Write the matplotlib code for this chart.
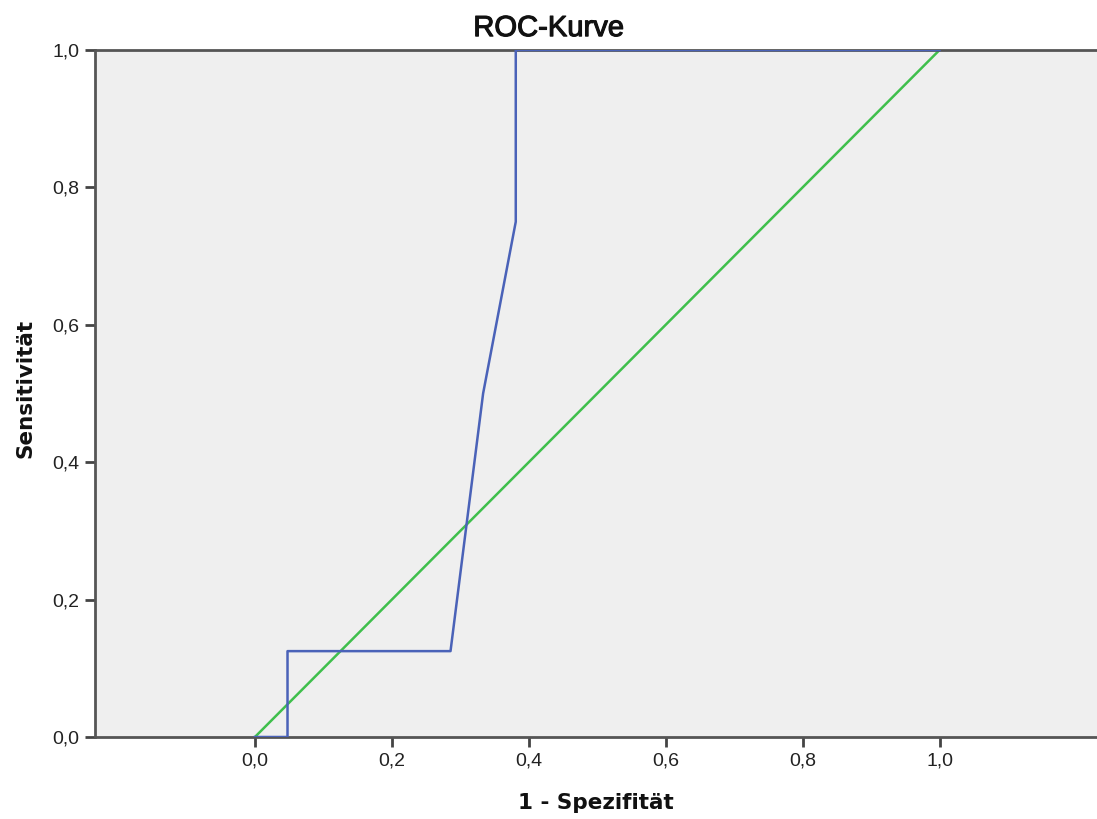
import matplotlib
matplotlib.use("Agg")
import matplotlib.pyplot as plt
import matplotlib.patheffects as pe
from matplotlib.ticker import FuncFormatter

# Data
fpr = [0.0, 0.0476, 0.0476, 0.2857, 0.3333, 0.3810, 0.3810, 1.0]
tpr = [0.0, 0.0, 0.125, 0.125, 0.5, 0.75, 1.0, 1.0]
ref_x = [0.0, 1.0]
ref_y = [0.0, 1.0]
ticks = [0.0, 0.2, 0.4, 0.6, 0.8, 1.0]
title = "ROC-Kurve"
xlabel = "1 - Spezifität"
ylabel = "Sensitivität"

plt.rcParams['font.family'] = ['Liberation Sans', 'DejaVu Sans']

fig = plt.figure(figsize=(10.97, 8.19), dpi=100)
ax = fig.add_axes([95/1097, 82/819, 1 - 95/1097, 687/819])
ax.set_facecolor('#efefef')

ax.plot(ref_x, ref_y, color='#3fbf4c', lw=1.8, solid_capstyle='butt', zorder=2)
ax.plot(fpr, tpr, color='#4a62b8', lw=1.8, zorder=3)

ax.set_xlim(-0.2336, 1.230)
ax.set_ylim(0, 1)
ax.set_xticks(ticks)
ax.set_yticks(ticks)
fmt = FuncFormatter(lambda v, p: f"{v:.1f}".replace('.', ','))
ax.xaxis.set_major_formatter(fmt)
ax.yaxis.set_major_formatter(fmt)
ax.tick_params(axis='both', direction='out', length=7, width=2, color='#444444',
               labelsize=14, labelcolor='#222222', pad=4)

for s in ['left', 'bottom', 'top']:
    ax.spines[s].set_color('#555555')
    ax.spines[s].set_linewidth(2)
ax.spines['right'].set_visible(False)

t = ax.set_title(title, fontsize=21, color='#111111', pad=10,
                 x=(548.5 - 95) / (1097 - 95))
t.set_path_effects([pe.withStroke(linewidth=0.8, foreground='#111111')])
ax.set_xlabel(xlabel, fontsize=15.5, fontweight='bold', color='#111111', labelpad=17,
              family=['DejaVu Sans'])
ax.set_ylabel(ylabel, fontsize=15.5, fontweight='bold', color='#111111',
              family=['DejaVu Sans'])
ax.yaxis.set_label_coords(-0.059, 0.507)

fig.savefig("out.png", dpi=100)
